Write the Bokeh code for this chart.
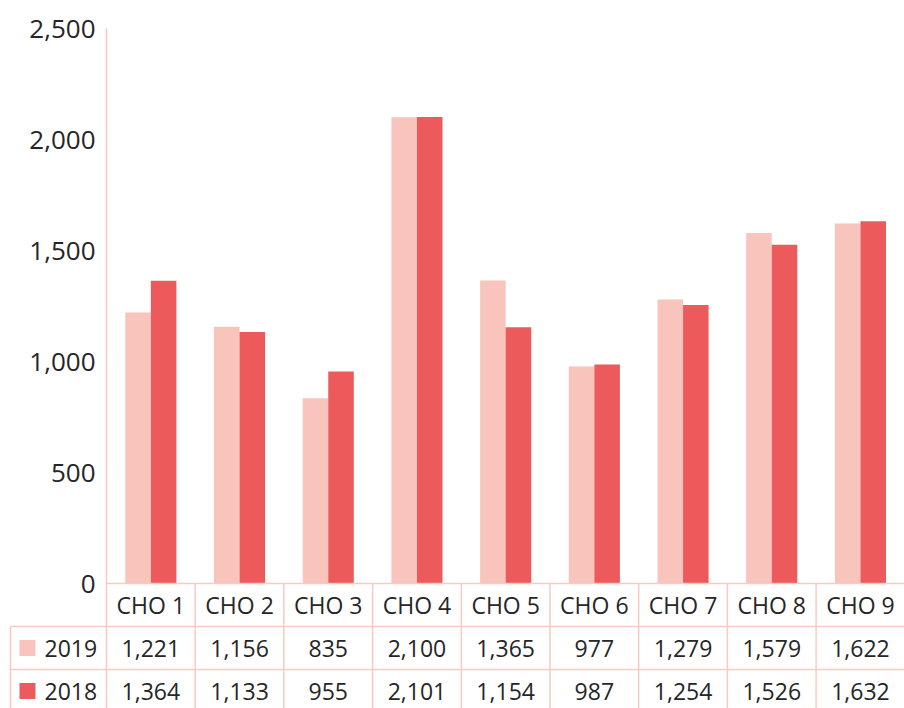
import numpy as np
from bokeh.plotting import figure
from bokeh.models import Range1d
from bokeh.core.properties import value
from bokeh.embed import file_html
from bokeh.resources import INLINE

# ---- data ----
categories = ["CHO 1", "CHO 2", "CHO 3", "CHO 4", "CHO 5", "CHO 6", "CHO 7", "CHO 8", "CHO 9"]
series_names = ["2019", "2018"]
values_2019 = [1221, 1156, 835, 2100, 1365, 977, 1279, 1579, 1622]
values_2018 = [1364, 1133, 955, 2101, 1154, 987, 1254, 1526, 1632]
y_ticks = [0, 500, 1000, 1500, 2000, 2500]
y_tick_labels = ["0", "500", "1,000", "1,500", "2,000", "2,500"]
colors = ["#F8C4BC", "#EC5A5C"]

# ---- layout (pixels within figure) ----
W, H = 904, 708
X0 = 106.0         # y-axis position
COLW = 88.7        # category column width
Y0 = 583.0         # zero line / table top
YTOP = 28.0        # top of axis
YMAX = 2500
PXU = (Y0 - YTOP) / YMAX
ROWH = 43.0
TABLE_LEFT = 10.0
LINE_COLOR = "#F8CBC2"
TEXT_COLOR = "#262626"
FONT = value("Open Sans")


def xd(px):
    return (px - X0) / COLW


def yd(py):
    return (Y0 - py) / PXU


p = figure(width=W, height=H, output_backend="svg", toolbar_location=None,
           x_axis_type=None, y_axis_type=None,
           x_range=Range1d(xd(0), xd(W)), y_range=Range1d(yd(H), yd(0)),
           min_border=0, outline_line_color=None)
p.background_fill_color = "white"
p.border_fill_color = "white"

n = len(categories)
idx = np.arange(n)
bw = 0.288
off = 0.144

# bars
p.vbar(x=idx + 0.5 - off, top=values_2019, bottom=0, width=bw,
       fill_color=colors[0], line_color=None)
p.vbar(x=idx + 0.5 + off, top=values_2018, bottom=0, width=bw,
       fill_color=colors[1], line_color=None)

# y axis line
p.segment(x0=[0], y0=[YMAX], x1=[0], y1=[yd(H)], line_color=LINE_COLOR, line_width=1.5)

# y tick labels
p.text(x=[xd(X0 - 11)] * len(y_ticks), y=y_ticks, text=y_tick_labels,
       text_align="right", text_baseline="middle", text_font=FONT,
       text_font_size="26px", text_color=TEXT_COLOR)

# table lines
row1 = Y0 + ROWH
row2 = Y0 + 2 * ROWH
p.segment(x0=[0, xd(TABLE_LEFT), xd(TABLE_LEFT)], y0=[0, yd(row1), yd(row2)],
          x1=[n, n, n], y1=[0, yd(row1), yd(row2)],
          line_color=LINE_COLOR, line_width=1.5)
p.segment(x0=list(idx[1:]), y0=[0] * (n - 1), x1=list(idx[1:]), y1=[yd(H)] * (n - 1),
          line_color=LINE_COLOR, line_width=1.5)
p.segment(x0=[xd(TABLE_LEFT)], y0=[yd(row1)], x1=[xd(TABLE_LEFT)], y1=[yd(H)],
          line_color=LINE_COLOR, line_width=1.5)

# header text
p.text(x=idx + 0.5, y=[yd(Y0 + ROWH / 2)] * n, text=categories,
       text_align="center", text_baseline="middle", text_font=FONT,
       text_font_size="23px", text_color=TEXT_COLOR)

# value rows
for r, vals in enumerate([values_2019, values_2018]):
    yc = yd(Y0 + ROWH * (r + 1) + ROWH / 2)
    p.text(x=idx + 0.5, y=[yc] * n, text=[f"{v:,}" for v in vals],
           text_align="center", text_baseline="middle", text_font=FONT,
           text_font_size="23px", text_color=TEXT_COLOR)
    # legend key
    p.rect(x=[xd(27)], y=[yc], width=16, height=16, width_units="screen",
           height_units="screen", fill_color=colors[r], line_color=None)
    p.text(x=[xd(44)], y=[yc], text=[series_names[r]], text_align="left",
           text_baseline="middle", text_font=FONT, text_font_size="23px",
           text_color=TEXT_COLOR)

open("out.html", "w").write(file_html(p, INLINE))
